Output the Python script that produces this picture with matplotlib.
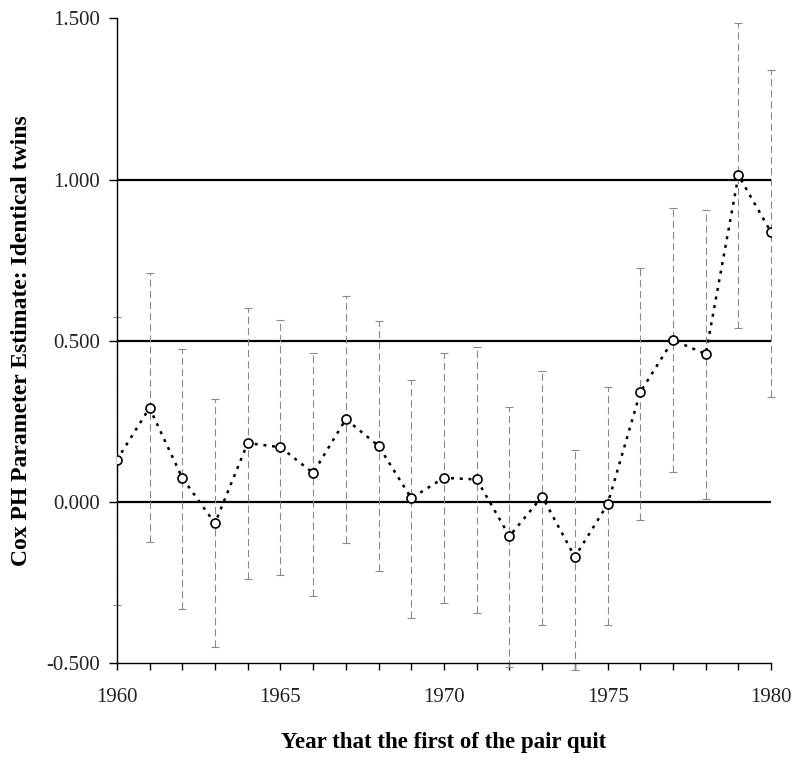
import matplotlib
matplotlib.use("Agg")
import matplotlib.pyplot as plt
import numpy as np

plt.rcParams['font.family'] = ['Liberation Serif', 'DejaVu Serif']
plt.rcParams['axes.unicode_minus'] = False

years = list(range(1960, 1981))
estimate = [0.130, 0.292, 0.075, -0.066, 0.183, 0.170, 0.090, 0.257, 0.174, 0.012,
            0.075, 0.070, -0.106, 0.017, -0.170, -0.007, 0.341, 0.502, 0.459, 1.013, 0.836]
upper = [0.574, 0.710, 0.475, 0.318, 0.602, 0.563, 0.463, 0.639, 0.560, 0.377,
         0.462, 0.481, 0.295, 0.406, 0.160, 0.357, 0.727, 0.913, 0.904, 1.486, 1.339]
lower = [-0.320, -0.125, -0.332, -0.449, -0.239, -0.225, -0.291, -0.126, -0.214, -0.359,
         -0.314, -0.343, -0.510, -0.381, -0.520, -0.381, -0.055, 0.092, 0.010, 0.540, 0.325]
ref_lines = [0.0, 0.5, 1.0]
y_ticks = [-0.5, 0.0, 0.5, 1.0, 1.5]
x_ticks = [1960, 1965, 1970, 1975, 1980]

fig = plt.figure(figsize=(8.0, 7.71), dpi=100)
ax = fig.add_axes([0.146, 0.1397, 0.818, 0.8366])

for r in ref_lines:
    ax.axhline(r, color='black', lw=1.6, zorder=1)

est = np.array(estimate)
yerr = np.vstack([est - np.array(lower), np.array(upper) - est])
eb = ax.errorbar(years, est, yerr=yerr, fmt='none', ecolor='#8a8a8a',
                 elinewidth=0.8, capsize=2.8, capthick=0.8, zorder=2, clip_on=False)
for lc in eb[2]:
    lc.set_linestyle((0, (6.5, 3.5)))

ax.plot(years, est, color='black', lw=1.8, linestyle=(0, (1.2, 2.3)), zorder=3,
        marker='o', markersize=6.5, markerfacecolor='white', markeredgecolor='black',
        markeredgewidth=1.2)

ax.set_xlim(1960, 1980)
ax.set_ylim(-0.5, 1.5)
ax.set_xticks(years, minor=False)
ax.set_xticklabels([str(y) if y in x_ticks else '' for y in years])
ax.set_yticks(y_ticks)
ax.set_yticklabels([f"{v:.3f}" for v in y_ticks])

for s in ['top', 'right']:
    ax.spines[s].set_visible(False)
for s in ['left', 'bottom']:
    ax.spines[s].set_linewidth(1.0)
    ax.spines[s].set_color('black')

ax.tick_params(axis='x', direction='out', length=5, width=1.0, labelsize=15, pad=13, colors='black')
ax.tick_params(axis='y', direction='out', length=6, width=1.0, labelsize=15, pad=6, colors='black')
for lbl in ax.get_xticklabels() + ax.get_yticklabels():
    lbl.set_color('#222222')

ax.set_xlabel('Year that the first of the pair quit', fontsize=16.5, fontweight='bold', labelpad=18)
ax.set_ylabel('Cox PH Parameter Estimate: Identical twins', fontsize=17, fontweight='bold', labelpad=10)

fig.savefig('out.png', dpi=100)
